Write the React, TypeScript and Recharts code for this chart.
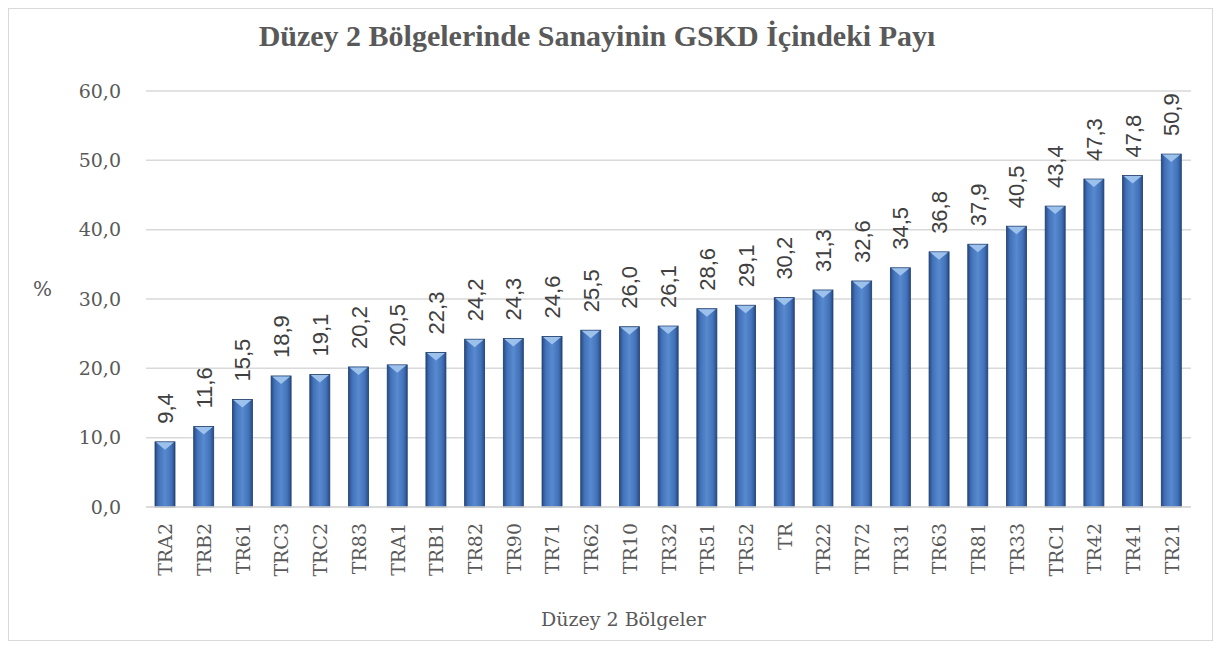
import { Bar, BarChart, CartesianGrid, Label, LabelList, XAxis, YAxis } from "recharts";

const regions = ["TRA2", "TRB2", "TR61", "TRC3", "TRC2", "TR83", "TRA1", "TRB1", "TR82", "TR90", "TR71", "TR62", "TR10", "TR32", "TR51", "TR52", "TR", "TR22", "TR72", "TR31", "TR63", "TR81", "TR33", "TRC1", "TR42", "TR41", "TR21"];
const shares = [9.4, 11.6, 15.5, 18.9, 19.1, 20.2, 20.5, 22.3, 24.2, 24.3, 24.6, 25.5, 26.0, 26.1, 28.6, 29.1, 30.2, 31.3, 32.6, 34.5, 36.8, 37.9, 40.5, 43.4, 47.3, 47.8, 50.9];
const yTicks = [0, 10, 20, 30, 40, 50, 60];

const data = regions.map((name, i) => ({ name, value: shares[i] }));

const fmt = (v: number) => v.toFixed(1).replace(".", ",");

const serif = "'DejaVu Serif', serif";

function BevelBar(props: any) {
  const { x, y, width, height } = props;
  if (height <= 0) return null;
  const cap = Math.min(8, height);
  return (
    <g>
      <rect x={x} y={y} width={width} height={height} fill="url(#barGrad)" stroke="#1f3b68" strokeWidth={0.8} />
      <polygon points={`${x + 1},${y + 0.5} ${x + width - 1},${y + 0.5} ${x + width / 2},${y + cap}`} fill="#9cc2ec" />
    </g>
  );
}

function ValueLabel(props: any) {
  const { x, y, width, value } = props;
  const cx = x + width / 2 + 8;
  const cy = y - 18;
  return (
    <text x={cx} y={cy} transform={`rotate(-90 ${cx} ${cy})`} textAnchor="start" fontSize={22} fill="#404040" fontFamily="'Liberation Sans', sans-serif">
      {fmt(value)}
    </text>
  );
}

function CatTick(props: any) {
  const { x, y, payload } = props;
  const cx = x + 7;
  const cy = y + 8;
  return (
    <text x={cx} y={cy} transform={`rotate(-90 ${cx} ${cy})`} textAnchor="end" fontSize={19} fill="#595959" fontFamily={serif}>
      {payload.value}
    </text>
  );
}

export default function App() {
  return (
    <div style={{ width: 1205, height: 633, border: "1px solid #d9d9d9", boxSizing: "border-box", position: "relative", background: "#fff" }}>
      <div style={{ position: "absolute", top: 10, left: 0, width: 1176, textAlign: "center", fontFamily: "'Liberation Serif', serif", fontWeight: "bold", fontSize: 30, color: "#595959" }}>
        Düzey 2 Bölgelerinde Sanayinin GSKD İçindeki Payı
      </div>
      <BarChart width={1203} height={631} data={data} margin={{ top: 82, right: 21, left: 0, bottom: 0 }}>
        <defs>
          <linearGradient id="barGrad" x1="0" y1="0" x2="1" y2="0">
            <stop offset="0%" stopColor="#264b87" />
            <stop offset="18%" stopColor="#4271b8" />
            <stop offset="50%" stopColor="#588ad0" />
            <stop offset="82%" stopColor="#4271b8" />
            <stop offset="100%" stopColor="#264b87" />
          </linearGradient>
        </defs>
        <CartesianGrid vertical={false} stroke="#d9d9d9" strokeWidth={1.5} />
        <XAxis dataKey="name" interval={0} tickLine={false} axisLine={{ stroke: "#d9d9d9", strokeWidth: 1.5 }} tick={<CatTick />} height={133}>
          <Label value="Düzey 2 Bölgeler" position="insideBottom" offset={14} dx={-45} fontSize={19} fill="#595959" fontFamily={serif} />
        </XAxis>
        <YAxis domain={[0, 60]} ticks={yTicks} tickFormatter={fmt} axisLine={false} tickLine={false} tickMargin={19} width={137} tick={{ fontSize: 19, fill: "#595959", fontFamily: serif }}>
          <Label value="%" position="insideLeft" offset={24} dy={-10} fontSize={20} fill="#595959" fontFamily={serif} />
        </YAxis>
        <Bar dataKey="value" barSize={20} shape={<BevelBar />} isAnimationActive={false}>
          <LabelList dataKey="value" content={<ValueLabel />} />
        </Bar>
      </BarChart>
    </div>
  );
}
